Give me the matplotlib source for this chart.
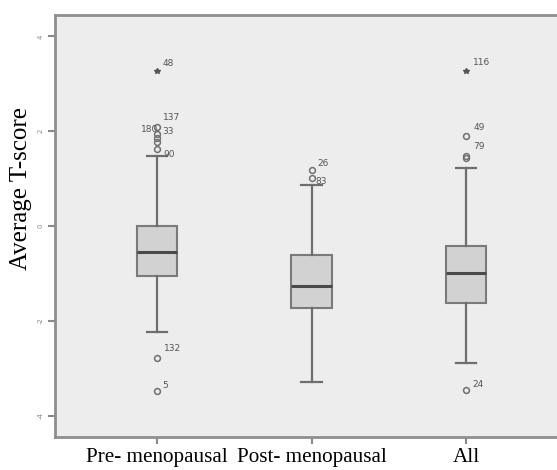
import numpy as np
import matplotlib.pyplot as plt

# box summaries (SPSS style boxplot)
groups = ["Pre- menopausal", "Post- menopausal", "All"]
q1 = [-1.05, -1.73, -1.62]
med = [-0.55, -1.27, -0.99]
q3 = [0.00, -0.61, -0.42]
whislo = [-2.24, -3.29, -2.89]
whishi = [1.48, 0.86, 1.22]

# outliers (circles) and extremes (stars)
circles = [
    [2.08, 1.94, 1.86, 1.77, 1.62, -2.78, -3.48],
    [1.18, 1.01],
    [1.90, 1.48, 1.43, -3.46],
]
stars = [[3.27], [], [3.27]]

# case labels: group index, value, text, offset in pixels
case_labels = [
    (0, 3.27, "48", (6, 7)),
    (0, 2.08, "137", (6, 10)),
    (0, 1.94, "180", (-16, 5)),
    (0, 1.86, "33", (5, 6)),
    (0, 1.62, "90", (6, -5)),
    (0, -2.78, "132", (7, 9)),
    (0, -3.48, "5", (5, 6)),
    (1, 1.18, "26", (6, 7)),
    (1, 1.01, "83", (4, -3)),
    (2, 3.27, "116", (7, 8)),
    (2, 1.90, "49", (7, 8)),
    (2, 1.48, "79", (7, 9)),
    (2, -3.46, "24", (6, 6)),
]

yticks = [4, 2, 0, -2, -4]
pos = [1, 2, 3]

fig = plt.figure(figsize=(5.57, 4.7), dpi=100)
ax = fig.add_axes([55 / 557, 1 - 437 / 470, 510 / 557, 422 / 470])
ax.set_facecolor("#ededed")

stats = []
for i in range(3):
    stats.append(dict(q1=q1[i], med=med[i], q3=q3[i],
                      whislo=whislo[i], whishi=whishi[i], fliers=[]))

ax.bxp(stats, positions=pos, widths=0.26, patch_artist=True,
       showfliers=False,
       boxprops=dict(facecolor="#d2d2d2", edgecolor="#7a7a7a", linewidth=1.5),
       medianprops=dict(color="#4a4a4a", linewidth=2.2),
       whiskerprops=dict(color="#6e6e6e", linewidth=1.6),
       capprops=dict(color="#6e6e6e", linewidth=1.6))

for i in range(3):
    if circles[i]:
        ax.plot([pos[i]] * len(circles[i]), circles[i], "o", ms=4.2,
                mfc="none", mec="#707070", mew=1.1)
    if stars[i]:
        ax.plot([pos[i]] * len(stars[i]), stars[i], "*", ms=4,
                color="#555555")

for g, v, t, off in case_labels:
    ax.annotate(t, (pos[g], v), xytext=off, textcoords="offset pixels",
                fontsize=6.5, color="#555555", ha="left", va="center")

ax.set_xlim(0.34, 3.64)
ax.set_ylim(-4.45, 4.45)
ax.set_xticks(pos)
ax.set_xticklabels(groups, fontsize=15.2, family="Liberation Serif")
ax.set_yticks(yticks)
ax.set_yticklabels([str(v) for v in yticks], rotation=90, fontsize=5,
                   color="#777777", va="center")
ax.tick_params(axis="both", colors="#8a8a8a", length=5, width=1.5)
ax.tick_params(axis="x", labelcolor="black", pad=3)
ax.set_ylabel("Average T-score", fontsize=18, family="Liberation Serif",
              va="center")
ax.yaxis.set_label_coords(-0.067, 0.59)

for s in ax.spines.values():
    s.set_color("#8e8e8e")
    s.set_linewidth(2)

fig.savefig("out.png", dpi=100)
